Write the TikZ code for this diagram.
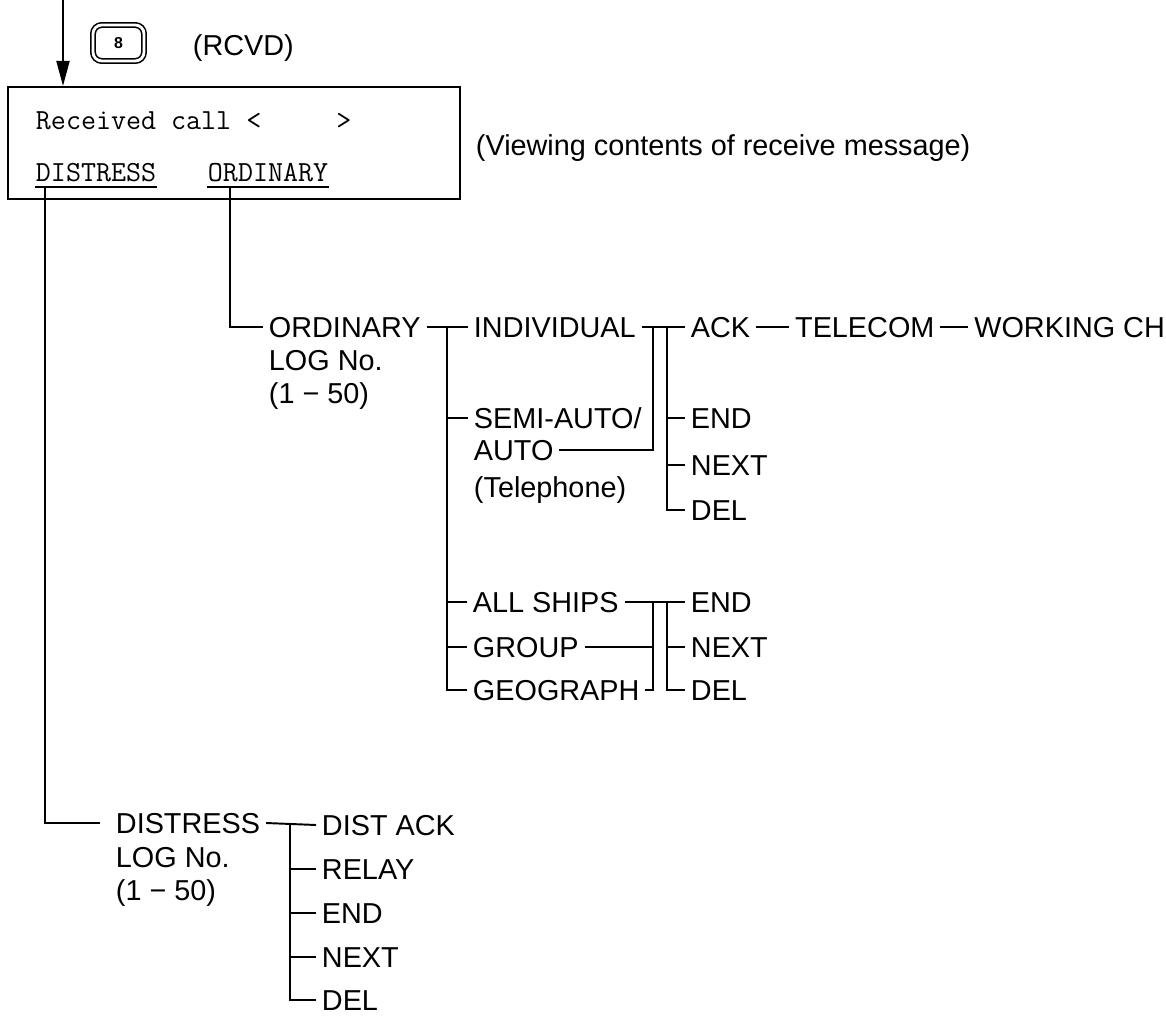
\documentclass[tikz,border=0pt]{standalone}
\usepackage{fontspec}
\setmainfont{Liberation Sans}
\usepackage{tikz}
\usetikzlibrary{arrows.meta, positioning, calc}

\begin{document}
\begin{tikzpicture}[x=0.02cm,y=-0.02cm,line width=1.1pt,
    txt/.style={anchor=west, inner xsep=0.1cm, inner ysep=0pt, text height=11.8pt, text depth=0pt, font=\fontsize{16.4}{19}\selectfont},
    ecran/.style={anchor=base west, inner xsep=0pt, inner ysep=0.08cm, text depth=0pt, font=\ttfamily\fontsize{16.6}{19}\selectfont},
    touche/.style={draw, rounded corners=5pt, double, double distance=1.6pt, line width=0.9pt, minimum width=1.02cm, minimum height=0.72cm, font=\bfseries\fontsize{9}{9}\selectfont}]
    \useasboundingbox (0,0) rectangle (1166,1016);

    % Touche et écran
    \node[touche] (key) at (118.5,43) {8};
    \node[txt] (rcvd) at (187,45) {(RCVD)};
    \node[draw, line width=1.2pt, minimum width=9.04cm, minimum height=2.24cm] (screen) at (234,143) {};
    \node[txt] (view) at (470,145) {(Viewing contents of receive message)};
    \node[ecran] (recv) at (35,130) {Received call <\ \ \ \ \ >};
    \node[ecran] (sdist) at (35,182) {DISTRESS};
    \node[ecran] (sord) at (207,182) {ORDINARY};
    \draw (sdist.south west) -- (sdist.south east);
    \draw (sord.south west) -- (sord.south east);
    \coordinate (entree) at (63,0);
    \draw[-{Triangle[length=0.5cm,width=0.26cm]}] (entree) -- (entree |- screen.north);

    % Appels ordinaires
    \node[txt] (ord) at (263,327) {ORDINARY};
    \node[txt] (ordlog) at (263,360) {LOG No.};
    \node[txt] (ordnb) at (263,393) {(1 − 50)};
    \node[txt] (indiv) at (468,327) {INDIVIDUAL};
    \node[txt] (semi) at (468,418) {SEMI-AUTO/};
    \node[txt] (auto) at (468,450) {AUTO};
    \node[txt] (tel) at (468,487) {(Telephone)};
    \node[txt] (allships) at (467,602) {ALL SHIPS};
    \node[txt] (group) at (467,647) {GROUP};
    \node[txt] (geo) at (467,690) {GEOGRAPH};
    \node[txt] (ack) at (685,327) {ACK};
    \node[txt, right=0.66cm of ack] (telecom) {TELECOM};
    \node[txt, right=0.56cm of telecom] (working) {WORKING CH};
    \node[txt] (end1) at (685,418) {END};
    \node[txt] (next1) at (685,465) {NEXT};
    \node[txt] (del1) at (685,510) {DEL};
    \node[txt] (end2) at (685,602) {END};
    \node[txt] (next2) at (685,647) {NEXT};
    \node[txt] (del2) at (685,690) {DEL};

    % Appels de détresse
    \node[txt] (dist) at (110,823) {DISTRESS};
    \node[txt] (distlog) at (110,857) {LOG No.};
    \node[txt] (distnb) at (110,890) {(1 − 50)};
    \node[txt] (dack) at (316,825) {DIST ACK};
    \node[txt] (relay) at (316,869) {RELAY};
    \node[txt] (dend) at (316,913) {END};
    \node[txt] (dnext) at (316,957) {NEXT};
    \node[txt] (ddel) at (316,1000) {DEL};

    % Liaisons depuis l'écran
    \draw ($(sdist.south west)+(10,0)$) |- ([xshift=-0.2cm]dist.west);
    \draw ($(sord.south west)+(23,0)$) |- (ord.west);

    % Arbre ORDINARY
    \coordinate (b1) at (447,327);
    \draw (ord.east) -- (indiv.west);
    \draw (b1) |- (geo.west);
    \foreach \n in {semi,allships,group}
        \draw (b1 |- \n.west) -- (\n.west);

    \coordinate (b2) at (653,327);
    \coordinate (b3) at (667,327);
    \draw (indiv.east) -- (ack.west);
    \draw (b2) |- (auto.east);
    \draw (b3) |- (del1.west);
    \foreach \n in {end1,next1}
        \draw (b3 |- \n.west) -- (\n.west);
    \draw (ack.east) -- (telecom.west);
    \draw (telecom.east) -- (working.west);

    \coordinate (b4) at (653,602);
    \coordinate (b5) at (667,602);
    \draw (allships.east) -- (end2.west);
    \draw (b4) |- (geo.east);
    \draw (group.east) -- (b4 |- group.east);
    \draw (b5) |- (del2.west);
    \draw (b5 |- next2.west) -- (next2.west);

    % Arbre DISTRESS
    \coordinate (b6) at (290,823);
    \draw (dist.east) -- (dack.west);
    \draw (b6) |- (ddel.west);
    \foreach \n in {relay,dend,dnext}
        \draw (b6 |- \n.west) -- (\n.west);
\end{tikzpicture}
\end{document}
